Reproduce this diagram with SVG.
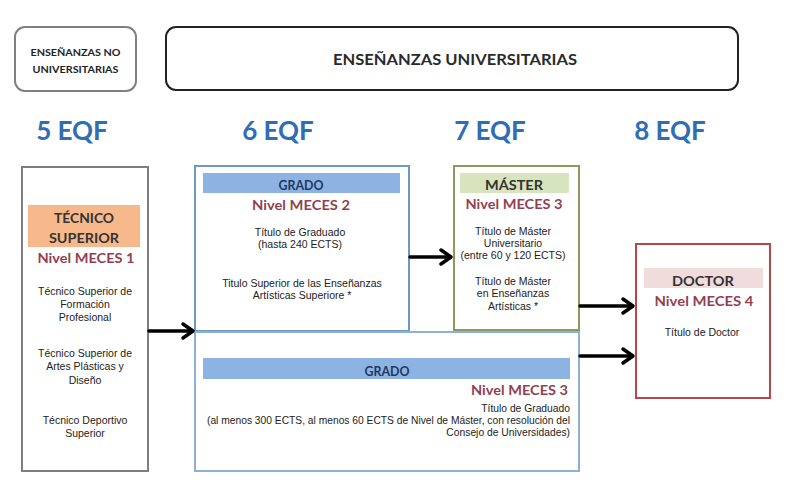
<svg xmlns="http://www.w3.org/2000/svg" width="787" height="487" viewBox="0 0 787 487">
<defs>
<style>
.hd{font-family:Lato,"Open Sans","Liberation Sans",sans-serif;font-weight:bold}
.eqf{font-family:Lato,"Open Sans","Liberation Sans",sans-serif;font-weight:bold;font-size:26px;fill:#2f6db5;text-anchor:middle}
.ttl{font-size:14px;fill:#333;text-anchor:middle}
.grd{font-size:14px;fill:#1f3864;text-anchor:middle}
.mec{font-size:14px;fill:#943f4f;text-anchor:middle}
.sm{font-family:"Liberation Sans",Arial,sans-serif;font-size:10.5px;fill:#222;text-anchor:middle}
.smr{font-family:"Liberation Sans",Arial,sans-serif;font-size:10.3px;fill:#222;text-anchor:end}
.arr{stroke:#000;stroke-width:3.5;fill:none;stroke-linecap:round;stroke-linejoin:round}
</style>
</defs>
<rect width="787" height="487" fill="#fff"/>

<g id="no-universitarias">
<rect x="15" y="27" width="121" height="64" rx="10" fill="#fff" stroke="#808080" stroke-width="2"/>
<text class="hd" x="75.5" y="56" font-size="10" fill="#222" text-anchor="middle" textLength="90" lengthAdjust="spacingAndGlyphs">ENSEÑANZAS NO</text>
<text class="hd" x="75.5" y="73" font-size="10" fill="#222" text-anchor="middle" textLength="86" lengthAdjust="spacingAndGlyphs">UNIVERSITARIAS</text>
</g>

<g id="universitarias">
<rect x="166" y="27" width="572" height="63" rx="10" fill="#fff" stroke="#222" stroke-width="2"/>
<text class="hd" x="455" y="65" font-size="15" fill="#2a2a2a" text-anchor="middle" textLength="244" lengthAdjust="spacingAndGlyphs">ENSEÑANZAS UNIVERSITARIAS</text>
</g>

<g id="eqf">
<text class="eqf" x="72" y="140">5 EQF</text>
<text class="eqf" x="278" y="140">6 EQF</text>
<text class="eqf" x="490" y="140">7 EQF</text>
<text class="eqf" x="670" y="140">8 EQF</text>
</g>

<g id="tecnico">
<rect x="22" y="167" width="126" height="304" fill="#fff" stroke="#7f7f7f" stroke-width="2"/>
<rect x="28" y="205" width="112" height="42" fill="#f7b98b"/>
<text class="hd ttl" x="84" y="223" textLength="60" lengthAdjust="spacingAndGlyphs">TÉCNICO</text>
<text class="hd ttl" x="84" y="243" textLength="70" lengthAdjust="spacingAndGlyphs">SUPERIOR</text>
<text class="hd mec" x="86" y="263" textLength="97" lengthAdjust="spacingAndGlyphs">Nivel MECES 1</text>
<text class="sm" x="85" y="295">Técnico Superior de</text>
<text class="sm" x="85" y="308">Formación</text>
<text class="sm" x="85" y="321">Profesional</text>
<text class="sm" x="85" y="357">Técnico Superior de</text>
<text class="sm" x="85" y="370">Artes Plásticas y</text>
<text class="sm" x="85" y="384">Diseño</text>
<text class="sm" x="85" y="424">Técnico Deportivo</text>
<text class="sm" x="85" y="437">Superior</text>
</g>

<g id="grado-1">
<rect x="195" y="166" width="214" height="165" fill="#fff" stroke="#6d98c6" stroke-width="2"/>
<rect x="203" y="173" width="197" height="20" fill="#8db3e2"/>
<text class="hd grd" x="301" y="190" textLength="45" lengthAdjust="spacingAndGlyphs">GRADO</text>
<text class="hd mec" x="301" y="210" textLength="98" lengthAdjust="spacingAndGlyphs">Nivel MECES 2</text>
<text class="sm" x="300" y="236">Título de Graduado</text>
<text class="sm" x="300" y="248">(hasta 240 ECTS)</text>
<text class="sm" x="302" y="287">Titulo Superior de las Enseñanzas</text>
<text class="sm" x="302" y="299">Artísticas Superiore *</text>
</g>

<g id="master">
<rect x="454" y="166" width="125" height="164" fill="#fff" stroke="#8a9a5b" stroke-width="2"/>
<rect x="460" y="173" width="109" height="20" fill="#d7e4bd"/>
<text class="hd ttl" x="514" y="190" textLength="58" lengthAdjust="spacingAndGlyphs">MÁSTER</text>
<text class="hd mec" x="514" y="209" textLength="97" lengthAdjust="spacingAndGlyphs">Nivel MECES 3</text>
<text class="sm" x="513" y="235">Título de Máster</text>
<text class="sm" x="513" y="247">Universitario</text>
<text class="sm" x="513" y="259">(entre 60 y 120 ECTS)</text>
<text class="sm" x="513" y="285">Título de Máster</text>
<text class="sm" x="513" y="297">en Enseñanzas</text>
<text class="sm" x="513" y="310">Artísticas *</text>
</g>

<g id="grado-2">
<rect x="195" y="332" width="384" height="139" fill="#fff" stroke="#8db0d6" stroke-width="2"/>
<rect x="203" y="358" width="367" height="21" fill="#8db3e2"/>
<text class="hd grd" x="387" y="376" textLength="45" lengthAdjust="spacingAndGlyphs">GRADO</text>
<text class="hd mec" x="568" y="395" style="text-anchor:end" textLength="97" lengthAdjust="spacingAndGlyphs">Nivel MECES 3</text>
<text class="smr" x="570" y="412">Título de Graduado</text>
<text class="smr" x="570" y="424" textLength="363" lengthAdjust="spacingAndGlyphs">(al menos 300 ECTS, al menos 60 ECTS de Nivel de Máster, con resolución del</text>
<text class="smr" x="570" y="436">Consejo de Universidades)</text>
</g>

<g id="doctor">
<rect x="636" y="244" width="134" height="154" fill="#fff" stroke="#b8454a" stroke-width="2"/>
<rect x="644" y="268" width="119" height="20" fill="#f0dcdc"/>
<text class="hd ttl" x="703" y="286" textLength="62" lengthAdjust="spacingAndGlyphs">DOCTOR</text>
<text class="hd mec" x="704" y="306" textLength="99" lengthAdjust="spacingAndGlyphs">Nivel MECES 4</text>
<text class="sm" x="702" y="336">Título de Doctor</text>
</g>

<g id="connectors">
<line class="arr" x1="149" y1="331" x2="192" y2="331"/>
<polyline class="arr" points="183,324 193,331 183,338"/>
<line class="arr" x1="410" y1="257" x2="450" y2="257"/>
<polyline class="arr" points="441,250 451,257 441,264"/>
<line class="arr" x1="580" y1="306" x2="632" y2="306"/>
<polyline class="arr" points="623,299 633,306 623,313"/>
<line class="arr" x1="580" y1="356" x2="632" y2="356"/>
<polyline class="arr" points="623,349 633,356 623,363"/>
</g>
</svg>
